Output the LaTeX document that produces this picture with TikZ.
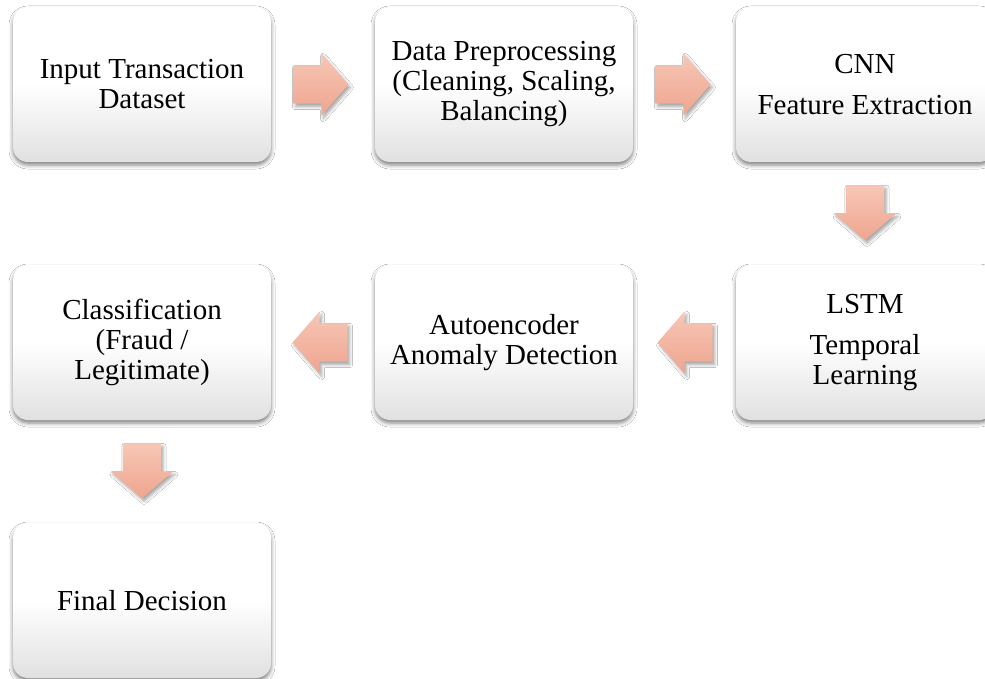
\documentclass[tikz,border=0pt]{standalone}
\usepackage{fontspec}
\setmainfont{Liberation Serif}
\usetikzlibrary{positioning, calc, shapes.arrows, shadows.blur}
\definecolor{arrowtop}{HTML}{F7C7B6}
\definecolor{arrowbot}{HTML}{EEA58F}

\begin{document}
\begin{tikzpicture}[x=1pt, y=-1pt,
  stage/.style={rounded corners=15pt, minimum width=258pt,
    minimum height=155pt, inner sep=0pt, align=center,
    font=\fontsize{29}{30}\selectfont,
    top color=white, bottom color=black!12, middle color=white,
    blur shadow={shadow xshift=0pt, shadow yshift=-3pt,
      shadow blur radius=4pt, shadow opacity=50}},
  flow/.style={single arrow, minimum height=55pt, anchor=tail,
    single arrow head extend=12pt, single arrow tip angle=98,
    single arrow head indent=0pt, inner xsep=0pt, inner ysep=19pt,
    top color=arrowtop, bottom color=arrowbot,
    blur shadow={shadow xshift=2pt, shadow yshift=-3pt,
      shadow blur radius=3pt, shadow opacity=35}},
  flowdown/.style={flow, shape border rotate=270,
    inner xsep=19pt, inner ysep=0pt}]
  \path[use as bounding box, fill=white] (0,0) rectangle (985,679);

  % Top row
  \node[stage] (input) at (142,84.5) {Input Transaction\\Dataset};
  \node[stage] (prep) at (504,84.5)
    {Data Preprocessing\\(Cleaning, Scaling,\\Balancing)};
  \node[stage] (cnn) at (865,84.5) {CNN\\[11pt]Feature Extraction};

  % Middle row
  \node[stage] (lstm) at (865,342.5) {LSTM\\[11pt]Temporal\\Learning};
  \node[stage] (auto) at (504,342.5) {Autoencoder\\Anomaly Detection};
  \node[stage] (cls) at (142,342.5)
    {Classification\\(Fraud /\\Legitimate)};

  % Bottom row
  \node[stage] (final) at (142,600.5) {Final Decision};

  % Block arrows
  \node[flow] (a1) at ($(input.east)+(22,0)$) {};
  \node[flow] (a2) at ($(prep.east)+(22,0)$) {};
  \node[flowdown] (a3) at ($(cnn.south)+(0,23)$) {};
  \node[flow, shape border rotate=180] (a4) at ($(lstm.west)+(-23,0)$) {};
  \node[flow, shape border rotate=180] (a5) at ($(auto.west)+(-27,0)$) {};
  \node[flowdown] (a6) at ($(cls.south)+(0,23)$) {};
\end{tikzpicture}
\end{document}
